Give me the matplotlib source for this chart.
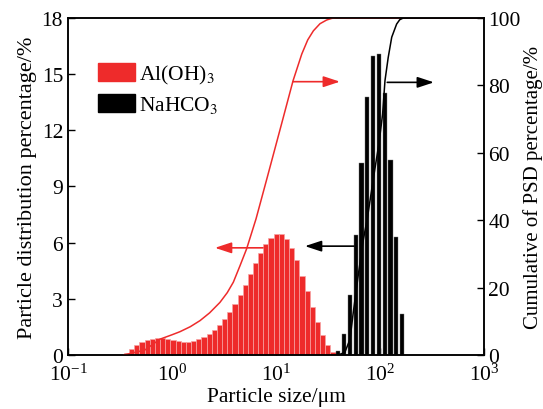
import numpy as np
import matplotlib
matplotlib.use("Agg")
import matplotlib.pyplot as plt
from matplotlib.patches import Patch

plt.rcParams['font.family'] = ['Liberation Serif', 'DejaVu Serif']
plt.rcParams['mathtext.fontset'] = 'stix'
plt.rcParams['font.size'] = 15.5

RED = '#ee2b2b'

# Al(OH)3 frequency distribution, % per bin (log-spaced bins)
al_first_um, al_last_um = 0.366, 39.6
al_pct = [0.12, 0.32, 0.51, 0.68, 0.79, 0.85, 0.89, 0.89, 0.85, 0.78,
          0.73, 0.69, 0.70, 0.75, 0.84, 0.95, 1.12, 1.34, 1.58, 1.90,
          2.28, 2.71, 3.19, 3.74, 4.33, 4.91, 5.45, 5.95, 6.27, 6.46,
          6.45, 6.20, 5.73, 5.09, 4.24, 3.44, 2.55, 1.75, 1.07, 0.53,
          0.18, 0.05]

# NaHCO3 frequency distribution
na_first_um, na_last_um = 39.7, 163.0
na_pct = [0.23, 1.12, 3.2, 6.4, 10.25, 13.8, 15.95, 16.1, 14.0, 10.4, 6.3, 2.2]

# cumulative curves (size um, cumulative %)
al_cum_um = [0.345, 0.55, 0.767, 1.0, 1.19, 1.5, 1.86, 2.3, 2.89, 3.4,
             3.89, 4.51, 5.22, 6.43, 8.24, 11.3, 14.6, 17.7, 20.2, 22.9,
             26.5, 30.7, 34.5, 38.4, 1000]
al_cum = [0, 1.5, 4.7, 6.0, 6.9, 8.4, 10.2, 12.5, 15.6, 18.5,
          21.6, 26.5, 31.5, 40.4, 52.7, 68.5, 81.4, 89.3, 93.5, 96.2,
          98.3, 99.4, 99.9, 100, 100]
na_cum_um = [39.7, 46.0, 51.5, 55.4, 62.0, 69.0, 76.0, 86.0, 98.0, 106.0,
             111.7, 120.0, 129.7, 144.6, 155.0, 167.6, 1000]
na_cum = [0, 0.8, 4.7, 12.7, 24, 34, 41, 52, 63, 71.5,
          81.4, 88.3, 94.3, 98.2, 99.5, 100, 100]


def log_bins(first, last, n, frac=1.0):
    lc = np.linspace(np.log10(first), np.log10(last), n)
    step = lc[1] - lc[0]
    left = 10 ** (lc - frac * step / 2)
    right = 10 ** (lc + frac * step / 2)
    return left, right - left


fig = plt.figure(figsize=(5.43, 4.10), dpi=100)
ax = fig.add_axes([0.1252, 0.1317, 0.7661, 0.822])
ax2 = ax.twinx()

al_left, al_w = log_bins(al_first_um, al_last_um, len(al_pct))
ax.bar(al_left, al_pct, width=al_w, align='edge', color=RED,
       edgecolor='#f7a3a3', linewidth=0.5, zorder=2)
na_left, na_w = log_bins(na_first_um, na_last_um, len(na_pct), frac=0.74)
ax.bar(na_left, na_pct, width=na_w, align='edge', color='black',
       edgecolor='#777777', linewidth=0.3, zorder=2)

ax.set_xscale('log')
ax.set_xlim(0.1, 1000)
ax.set_ylim(0, 18)
ax.set_yticks(np.arange(0, 19, 3))
ax.set_xlabel('Particle size/μm', labelpad=2)
ax.set_ylabel('Particle distribution percentage/%', labelpad=3, fontsize=16)
ax.minorticks_off()
ax.tick_params(direction='in', length=5, width=1)
ax.tick_params(axis='x', pad=6)

ax2.plot(al_cum_um, al_cum, color=RED, lw=1.1)
ax2.plot(na_cum_um, na_cum, color='black', lw=1.1)
ax2.set_ylim(0, 100)
ax2.set_yticks(np.arange(0, 101, 20))
ax2.tick_params(direction='in', length=5, width=1, pad=3)
ax2.set_ylabel('Cumulative of PSD percentage/%', labelpad=2, fontsize=15)

arrow = dict(arrowstyle='-|>,head_length=1.0,head_width=0.33', lw=1.2,
             shrinkA=0, shrinkB=0, mutation_scale=10)
ax2.annotate('', xy=(2.59, 31.8), xytext=(7.5, 31.8),
             arrowprops=dict(color=RED, **arrow))
ax2.annotate('', xy=(19.0, 32.3), xytext=(56.2, 32.3),
             arrowprops=dict(color='black', **arrow))
ax2.annotate('', xy=(41.2, 81.1), xytext=(14.6, 81.1),
             arrowprops=dict(color=RED, **arrow))
ax2.annotate('', xy=(330, 80.9), xytext=(117.5, 80.9),
             arrowprops=dict(color='black', **arrow))

handles = [Patch(facecolor=RED, edgecolor=RED),
           Patch(facecolor='black', edgecolor='black')]
ax.legend(handles, ['Al(OH)$_3$', 'NaHCO$_3$'], loc='upper left',
          bbox_to_anchor=(0.072, 0.867), frameon=False, fontsize=15.5,
          borderpad=0, borderaxespad=0,
          handlelength=1.72, handleheight=0.9, handletextpad=0.2,
          labelspacing=0.37)

for a in (ax, ax2):
    for s in a.spines.values():
        s.set_linewidth(1.1)

fig.savefig('out.png', dpi=100)
